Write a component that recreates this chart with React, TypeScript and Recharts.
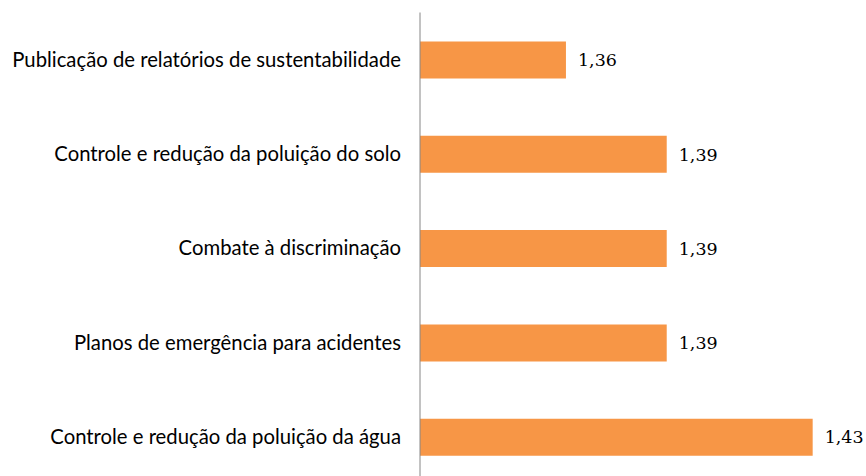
import { BarChart, Bar, XAxis, YAxis, LabelList } from "recharts";

// Categories top to bottom, as in the reference
const categories = [
  "Publicação de relatórios de sustentabilidade",
  "Controle e redução da poluição do solo",
  "Combate à discriminação",
  "Planos de emergência para acidentes",
  "Controle e redução da poluição da água",
];
const scores = [1.362, 1.391, 1.391, 1.391, 1.433];
const axisDomain = [1.32, 1.44];

const data = categories.map((name, i) => ({ name, score: scores[i] }));

const formatScore = (v: number) => v.toFixed(2).replace(".", ",");

export default function App() {
  return (
    <div style={{ position: "absolute", left: 0, top: 0, width: 866, height: 476, overflow: "hidden" }}>
      <BarChart
        width={866}
        height={484}
        layout="vertical"
        data={data}
        margin={{ top: 12.5, right: 29, left: 0, bottom: 0 }}
      >
        <XAxis type="number" domain={axisDomain} hide allowDataOverflow />
        <YAxis
          type="category"
          dataKey="name"
          width={420}
          tickLine={false}
          tickSize={0}
          tickMargin={19}
          axisLine={{ stroke: "#868686", strokeWidth: 1 }}
          tick={{ fill: "#000000", fontSize: 20.3, fontFamily: "Lato" }}
        />
        <Bar dataKey="score" fill="#F79646" barSize={37} isAnimationActive={false}>
          <LabelList
            dataKey="score"
            position="right"
            offset={12}
            formatter={(v: any) => formatScore(Number(v))}
            style={{ fill: "#000000", fontSize: 17.5, fontFamily: "DejaVu Serif" }}
          />
        </Bar>
      </BarChart>
    </div>
  );
}
